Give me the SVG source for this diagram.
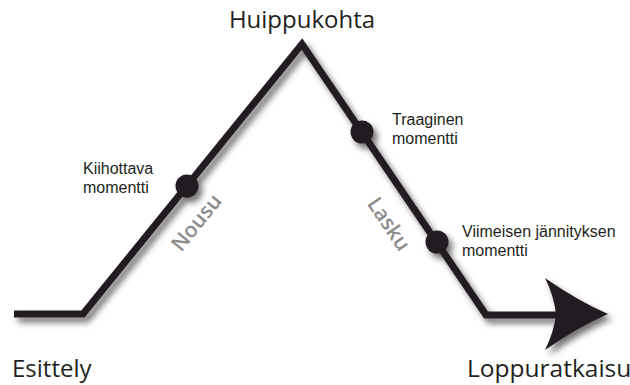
<svg xmlns="http://www.w3.org/2000/svg" width="630" height="385" viewBox="0 0 630 385">
  <style>
    .big { font-family: "Open Sans", "Noto Sans", sans-serif; font-size: 24px; fill: #231f20; }
    .small { font-family: "Liberation Sans", Arial, sans-serif; font-size: 16px; fill: #231f20; }
    .phase { font-family: "Open Sans", "Noto Sans", sans-serif; font-size: 21px; font-weight: 600; fill: #8c8c8c; }
    .line { fill: none; stroke: #231f20; stroke-width: 7; stroke-linejoin: miter; stroke-miterlimit: 10; }
    .dot { fill: #231f20; }
  </style>
  <defs>
    <filter id="shadow" x="-10%" y="-10%" width="130%" height="130%">
      <feDropShadow dx="4" dy="5" stdDeviation="3" flood-color="#000" flood-opacity="0.55"/>
    </filter>
  </defs>
  <rect width="630" height="385" fill="#fff"/>

  <g id="connectors" filter="url(#shadow)">
    <path class="line" d="M14,314 L83,314 L302,44 L486,315 L560,315"/>
    <path class="dot" d="M608,314 Q578,301 545,278 Q554,296 556,314 Q554,332 545,350 Q578,327 608,314 Z"/>
    <circle class="dot" cx="187" cy="186" r="11.5"/>
    <circle class="dot" cx="362" cy="132" r="11.5"/>
    <circle class="dot" cx="437" cy="242" r="11.5"/>
  </g>

  <g id="huippukohta"><text class="big" x="302" y="28" text-anchor="middle">Huippukohta</text></g>
  <g id="esittely"><text class="big" x="12" y="377">Esittely</text></g>
  <g id="loppuratkaisu"><text class="big" x="467" y="377" style="font-size:24.5px">Loppuratkaisu</text></g>

  <g id="kiihottava">
    <text class="small" x="83" y="174">Kiihottava<tspan x="83" dy="18.5">momentti</tspan></text>
  </g>
  <g id="traaginen">
    <text class="small" x="392" y="125">Traaginen<tspan x="392" dy="18.5">momentti</tspan></text>
  </g>
  <g id="viimeisen">
    <text class="small" x="462" y="237">Viimeisen jännityksen<tspan x="462" dy="18.5">momentti</tspan></text>
  </g>

  <g id="nousu"><text class="phase" text-anchor="middle" transform="translate(202,227) rotate(-51)">Nousu</text></g>
  <g id="lasku"><text class="phase" text-anchor="middle" transform="translate(383,228) rotate(56)">Lasku</text></g>
</svg>
